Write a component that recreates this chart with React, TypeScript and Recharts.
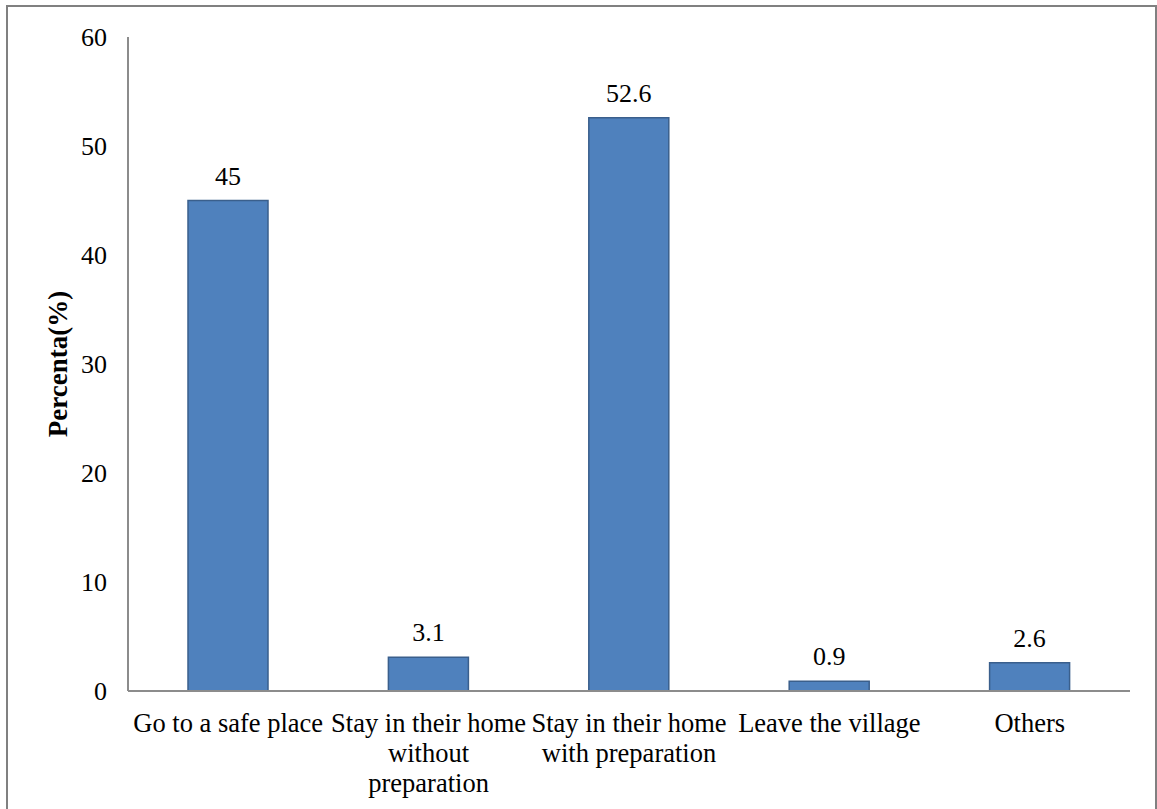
import React from 'react'
import { BarChart, Bar, XAxis, YAxis, LabelList } from 'recharts'

const categories = [
  'Go to a safe place',
  'Stay in their home without preparation',
  'Stay in their home with preparation',
  'Leave the village',
  'Others',
]
const labelLines = [
  ['Go to a safe place'],
  ['Stay in their home', 'without', 'preparation'],
  ['Stay in their home', 'with preparation'],
  ['Leave the village'],
  ['Others'],
]
const percentages = [45, 3.1, 52.6, 0.9, 2.6]
const yTicks = [0, 10, 20, 30, 40, 50, 60]

const data = categories.map((name, i) => ({ name, value: percentages[i] }))

const FONT = 'Liberation Serif, DejaVu Serif, serif'

function CategoryTick(props: any) {
  const { x, y, index } = props
  const lines = labelLines[index] || []
  return (
    <text x={x} y={y} textAnchor="middle" style={{ fontFamily: FONT, fontSize: 26.5 }} fill="#000">
      {lines.map((line, i) => (
        <tspan key={i} x={x} dy={i === 0 ? 33 : 30}>
          {line}
        </tspan>
      ))}
    </text>
  )
}

export default function App() {
  return (
    <div style={{ position: 'absolute', left: 0, top: 0, width: 1157, height: 809, background: '#fff', overflow: 'hidden', fontFamily: FONT }}>
      {/* outer frame */}
      <div
        style={{
          position: 'absolute',
          left: 6,
          top: 5,
          width: 1147,
          height: 840,
          border: '2px solid #808080',
        }}
      />
      <div style={{ position: 'absolute', left: 0, top: 0 }}>
        <BarChart
          width={1157}
          height={809}
          data={data}
          margin={{ top: 37, right: 27, bottom: 8, left: 68 }}
          barSize={80}
        >
          <XAxis
            dataKey="name"
            interval={0}
            height={110}
            axisLine={{ stroke: '#8c8c8c', strokeWidth: 2 }}
            tickLine={false}
            tick={<CategoryTick />}
          />
          <YAxis
            domain={[0, 60]}
            ticks={yTicks}
            width={60}
            axisLine={{ stroke: '#8c8c8c', strokeWidth: 2 }}
            tickLine={false}
            tickMargin={15}
            tick={{ fontFamily: FONT, fontSize: 26, fill: '#000' }}
            label={{
              value: 'Percenta(%)',
              angle: -90,
              position: 'insideLeft',
              offset: -11,
              style: { fontFamily: FONT, fontSize: 27, fontWeight: 'bold', fill: '#000', textAnchor: 'middle' },
            }}
          />
          <Bar dataKey="value" fill="#4F81BD" stroke="#3A5F8C" strokeWidth={1.5} isAnimationActive={false}>
            <LabelList
              dataKey="value"
              position="top"
              offset={16}
              style={{ fontFamily: FONT, fontSize: 26, fill: '#000' }}
            />
          </Bar>
        </BarChart>
      </div>
    </div>
  )
}
